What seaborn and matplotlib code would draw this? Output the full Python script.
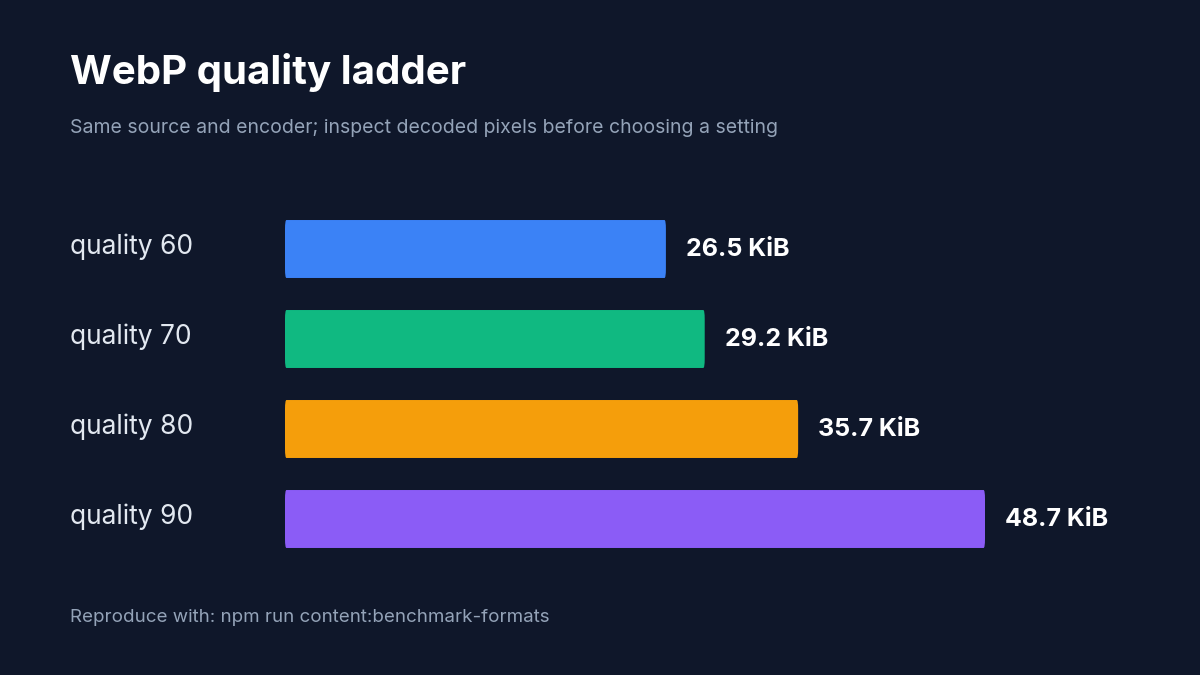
import matplotlib
matplotlib.use("Agg")
import matplotlib.pyplot as plt
from matplotlib.patches import FancyBboxPatch
import seaborn as sns
import pandas as pd

labels = ["quality 60", "quality 70", "quality 80", "quality 90"]
sizes_kib = [26.5, 29.2, 35.7, 48.7]
colors = ["#3b82f6", "#10b981", "#f59e0b", "#8b5cf6"]

bg = "#0f172a"
sns.set_style("dark")
plt.rcParams["font.family"] = ["Inter", "DejaVu Sans"]

fig = plt.figure(figsize=(12, 6.75), dpi=100, facecolor=bg)
ax = fig.add_axes([285 / 1200, 1 - 564 / 675, 700 / 1200, 360 / 675])
ax.set_facecolor(bg)

df = pd.DataFrame({"label": labels, "size": sizes_kib})
sns.barplot(data=df, x="size", y="label", hue="label", palette=colors,
            orient="h", width=0.644, legend=False, ax=ax)

# swap plain bars for rounded ones
for patch, c in zip(list(ax.patches), colors):
    x, y = patch.get_x(), patch.get_y()
    w, h = patch.get_width(), patch.get_height()
    patch.remove()
    ax.add_patch(FancyBboxPatch((x, y), w, h, boxstyle="round,pad=0,rounding_size=0.1",
                                mutation_aspect=1 / 14.4 * 90 / 1.0 / 90 * 1.0 * 14.4 / 14.4 * 0 + 1,
                                facecolor=c, edgecolor="none"))

ax.set_xlim(0, 48.7)
ax.set_ylim(3.5, -0.5)
for i, v in enumerate(sizes_kib):
    ax.text(v + 1.4, i, f"{v} KiB", color="white", fontsize=18, fontweight="bold",
            va="center", ha="left")
    fig.text(70 / 1200, 1 - (247 + 90 * i) / 675, labels[i], color="#e2e8f0",
             fontsize=19, va="center", ha="left")

ax.set_xlabel("")
ax.set_ylabel("")
ax.set_xticks([])
ax.set_yticks([])
for s in ax.spines.values():
    s.set_visible(False)

fig.text(70 / 1200, 1 - 72 / 675, "WebP quality ladder", color="white",
         fontsize=29, fontweight="bold", va="center")
fig.text(70 / 1200, 1 - 128 / 675,
         "Same source and encoder; inspect decoded pixels before choosing a setting",
         color="#94a3b8", fontsize=14, va="center")
fig.text(70 / 1200, 1 - 618 / 675, "Reproduce with: npm run content:benchmark-formats",
         color="#94a3b8", fontsize=13.5, va="center")

fig.savefig("out.png", facecolor=bg)
